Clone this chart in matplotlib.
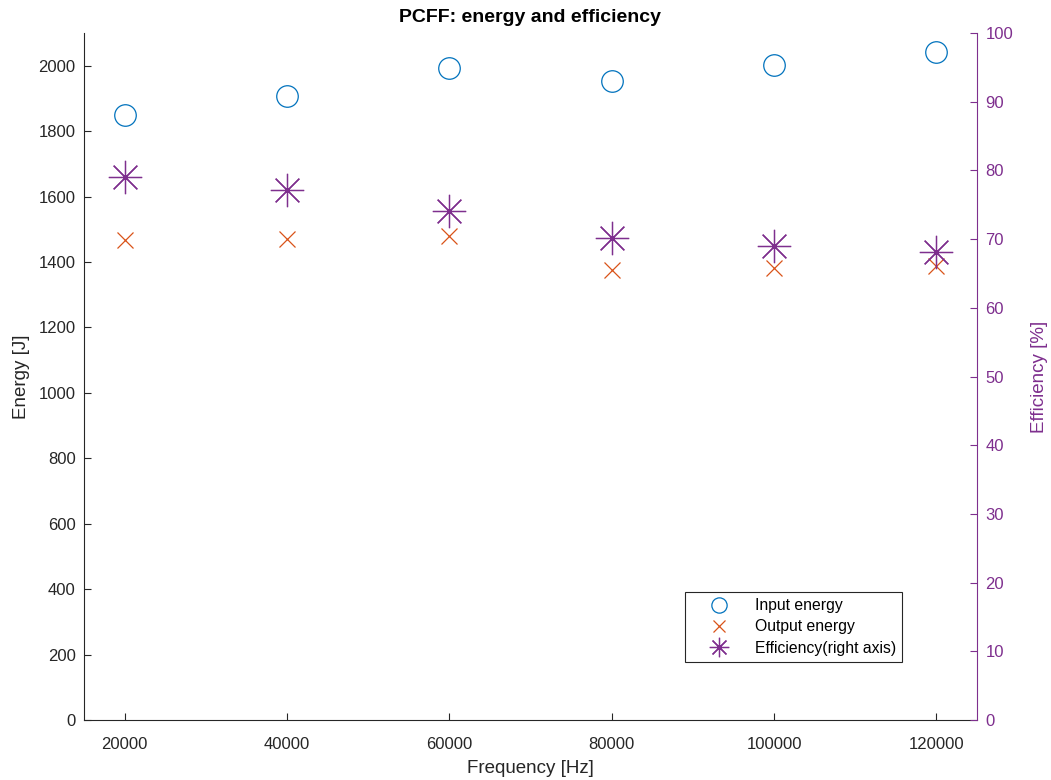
import matplotlib
matplotlib.use("Agg")
import matplotlib.pyplot as plt
from matplotlib.lines import Line2D

plt.rcParams['font.family'] = ['Liberation Sans', 'DejaVu Sans']

freq = [20000, 40000, 60000, 80000, 100000, 120000]
input_energy = [1850, 1908, 1993, 1953, 2002, 2042]
output_energy = [1467, 1470, 1480, 1376, 1382, 1388]
efficiency = [79.0, 77.1, 74.1, 70.2, 69.0, 68.1]
xticks = [20000, 40000, 60000, 80000, 100000, 120000]

c_in = '#0072BD'
c_out = '#D95319'
c_eff = '#7E2F8E'
c_ax = '#262626'

fig = plt.figure(figsize=(10.51, 7.80), dpi=100)
ax = fig.add_axes([0.0799, 0.0769, 0.8497, 0.8808])
ax2 = ax.twinx()

ax.plot(freq, input_energy, linestyle='none', marker='o', markersize=15.5,
        markerfacecolor='none', markeredgecolor=c_in, markeredgewidth=0.9)
ax.plot(freq, output_energy, linestyle='none', marker='x', markersize=12,
        markeredgecolor=c_out, markeredgewidth=0.9)
ax2.plot(freq, efficiency, linestyle='none', marker=(8, 2, 0), markersize=24,
         markeredgecolor=c_eff, color=c_eff, markeredgewidth=0.9)

ax.set_xlim(15000, 125000)
ax.set_ylim(0, 2100)
ax2.set_ylim(0, 100)
ax.set_xticks(xticks)
ax.set_xticklabels([str(v) for v in xticks])
ax.set_yticks(range(0, 2001, 200))
ax2.set_yticks(range(0, 101, 10))

for a in (ax, ax2):
    a.spines['top'].set_visible(False)
ax.spines['right'].set_visible(False)
ax2.spines['left'].set_visible(False)
ax2.spines['bottom'].set_visible(False)
ax2.spines['right'].set_color(c_eff)

ax.tick_params(direction='in', length=5, labelsize=12, colors=c_ax, pad=6)
ax.tick_params(axis='x', pad=12)
ax2.tick_params(direction='in', length=5, labelsize=12, colors=c_eff, pad=6)
ax.spines['left'].set_color(c_ax)
ax.spines['bottom'].set_color(c_ax)

ax.set_xlabel('Frequency [Hz]', fontsize=13.5, color=c_ax, labelpad=6)
ax.set_ylabel('Energy [J]', fontsize=13.5, color=c_ax, labelpad=6)
ax2.set_ylabel('Efficiency [%]', fontsize=13.5, color=c_eff, labelpad=13)
ax.set_title('PCFF: energy and efficiency', fontsize=14, fontweight='bold', pad=8)

handles = [
    Line2D([], [], linestyle='none', marker='o', markersize=11, markerfacecolor='none',
           markeredgecolor=c_in, markeredgewidth=0.9, label='Input energy'),
    Line2D([], [], linestyle='none', marker='x', markersize=9, markeredgecolor=c_out,
           markeredgewidth=0.9, label='Output energy'),
    Line2D([], [], linestyle='none', marker=(8, 2, 0), markersize=14, markeredgecolor=c_eff,
           color=c_eff, markeredgewidth=0.9, label='Efficiency(right axis)'),
]
leg = ax.legend(handles=handles, loc='lower right', bbox_to_anchor=(0.916, 0.0844),
                borderaxespad=0, fontsize=11.3, frameon=True, fancybox=False, framealpha=1,
                edgecolor=c_ax, borderpad=0.4, labelspacing=0.4,
                handletextpad=0.45, handlelength=3.6, numpoints=1)
leg.get_frame().set_linewidth(0.8)

fig.savefig('out.png', dpi=100)
